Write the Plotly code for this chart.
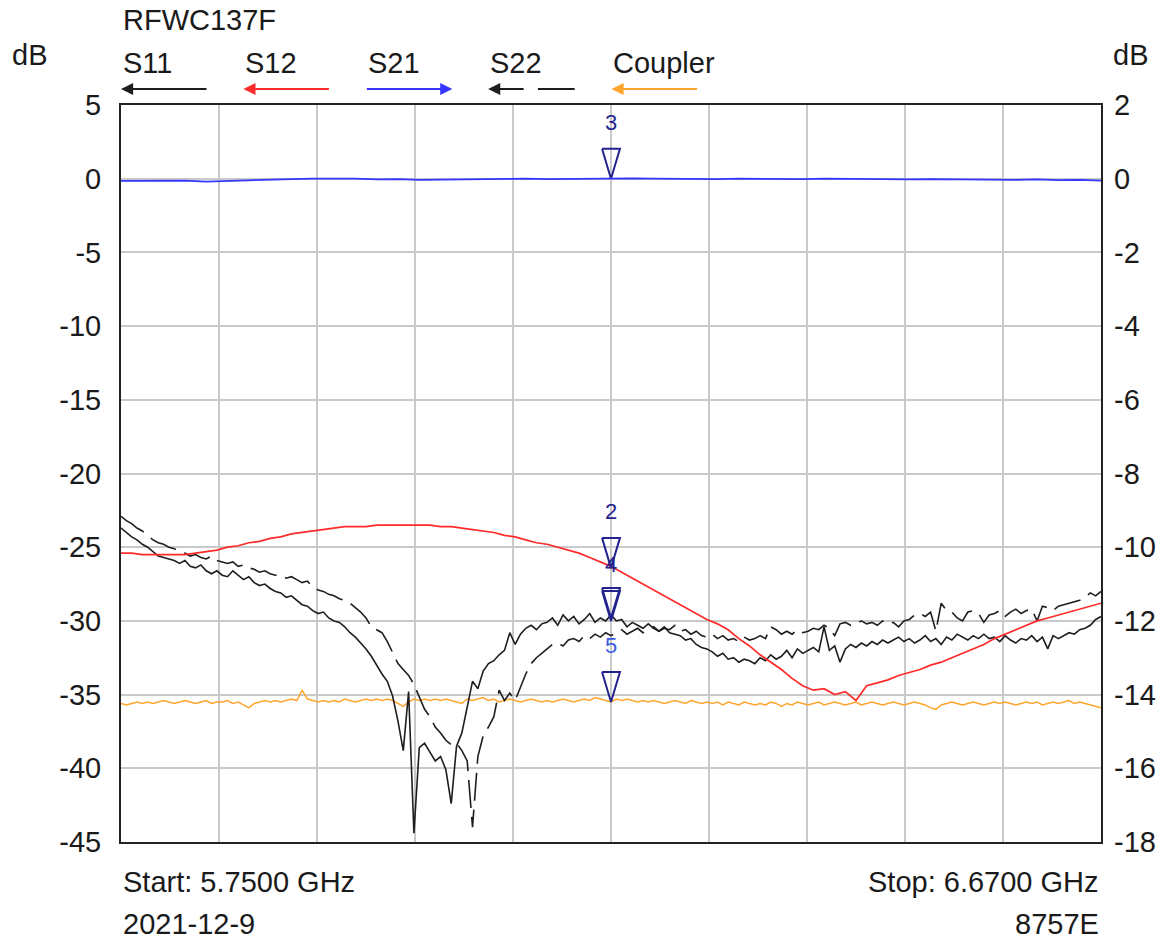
import numpy as np
import plotly.graph_objects as go

# ---------------- data ----------------
START_GHZ = 5.75
STOP_GHZ = 6.67

S11 = [
    -23.7, -24.0, -24.3, -24.5, -24.8, -25.0, -25.3, -25.6, -25.7, -25.8,
    -25.9, -26.1, -25.9, -26.3, -26.4, -26.2, -26.6, -26.8, -26.6, -26.9,
    -27.0, -26.6, -26.9, -27.2, -27.0, -27.4, -27.6, -27.5, -27.8, -28.0,
    -28.1, -28.4, -28.3, -28.6, -28.9, -29.0, -29.3, -29.5, -29.4, -29.8,
    -30.0, -30.1, -30.4, -30.8, -31.1, -31.5, -31.9, -32.4, -33.0, -33.6,
    -34.1, -35.1, -36.8, -38.8, -34.8, -44.4, -38.6, -38.3, -38.9, -39.5,
    -39.2, -40.1, -42.4, -38.5, -37.6, -35.8, -34.1, -34.6, -33.4, -32.9,
    -32.7, -32.3, -32.0, -30.8, -31.6, -30.9, -30.5, -30.3, -30.6, -30.2,
    -30.1, -29.8, -30.3, -29.6, -30.0, -29.7, -30.2, -29.9, -29.5, -30.1,
    -29.8, -30.0, -29.6, -30.0, -29.9, -30.4, -30.1, -30.3, -30.5, -30.2,
    -30.5, -30.7, -30.4, -30.8, -30.9, -31.0, -31.3, -31.2, -31.6, -31.8,
    -31.9, -32.1, -32.4, -32.2, -32.6, -32.5, -32.8, -32.6, -32.7, -32.9,
    -32.5, -32.7, -32.3, -32.6, -32.4, -32.0, -32.5, -31.9, -32.2, -32.0,
    -31.8, -32.1, -30.4, -32.0, -31.7, -32.8, -31.9, -31.6, -31.8, -31.5,
    -31.7, -31.4, -31.6, -31.3, -31.5, -31.3, -31.1, -31.4, -31.2, -31.5,
    -31.3, -31.0, -31.4, -31.2, -31.6, -31.1, -31.3, -30.9, -31.1, -31.3,
    -31.0, -31.2, -30.9, -31.2, -31.1, -31.4, -31.0, -31.3, -31.5, -31.2,
    -31.3, -31.0, -31.4, -31.1, -31.9, -31.0, -31.2, -31.0, -30.8, -30.9,
    -30.6, -30.5, -30.3, -29.9, -29.7,
]

S22 = [
    -22.9, -23.2, -23.4, -23.7, -23.9, -24.2, -24.5, -24.7, -24.8, -25.0,
    -25.1, -25.3, -25.4, -25.6, -25.5, -25.7, -25.8, -25.6, -25.9, -26.0,
    -26.1, -26.0, -26.3, -26.2, -26.4, -26.5, -26.7, -26.6, -26.8, -26.9,
    -26.9, -27.1, -27.0, -27.2, -27.4, -27.3, -27.7, -27.9, -28.0, -28.2,
    -28.3, -28.5, -28.6, -28.8, -29.1, -29.4, -29.8, -30.4, -30.6, -30.8,
    -31.4, -32.1, -32.9, -33.3, -33.7, -34.3, -35.2, -36.0, -36.5, -37.2,
    -37.6, -38.1, -38.4, -38.3, -38.8, -39.5, -44.0, -39.2, -37.8, -37.2,
    -36.5, -34.7, -35.4, -34.9, -35.4, -34.5, -33.6, -32.9, -32.5, -32.2,
    -31.9, -31.6, -31.5, -31.7, -31.3, -31.2, -31.4, -31.0, -31.2, -30.9,
    -31.1, -30.8, -31.0, -30.8, -30.6, -30.9, -30.7, -30.5, -30.8, -30.6,
    -30.4, -30.7, -30.5, -30.6, -30.3, -30.7, -30.6, -30.9, -30.7, -31.0,
    -31.1, -30.9, -31.2, -31.0, -31.3, -31.2, -31.4, -31.1, -31.3, -31.2,
    -31.0, -31.2, -30.4, -30.6, -30.9, -30.7, -30.9, -30.6, -30.8, -30.7,
    -30.5, -30.6, -30.3, -30.5, -31.0, -30.2, -30.1, -30.3, -30.2, -30.0,
    -30.2, -30.1, -30.3, -30.0, -30.2, -30.1, -30.4, -30.0, -29.9, -29.6,
    -29.5, -29.7, -29.4, -30.7, -28.8, -29.3, -29.4, -29.8, -30.0, -29.4,
    -29.3, -29.5, -30.1, -29.6, -29.5, -29.3, -29.7, -29.4, -29.2, -29.5,
    -29.3, -29.2, -30.0, -29.0, -29.1, -29.3, -29.0, -28.9, -28.8, -28.7,
    -28.6, -28.4, -28.1, -28.3, -28.0,
]

COUPLER = [
    -35.6, -35.7, -35.6, -35.5, -35.6, -35.5, -35.6, -35.5, -35.4, -35.5,
    -35.6, -35.5, -35.4, -35.5, -35.6, -35.5, -35.4, -35.6, -35.5, -35.5,
    -35.4, -35.6, -35.5, -35.7, -35.9, -35.6, -35.5, -35.4, -35.5, -35.4,
    -35.5, -35.4, -35.3, -35.4, -34.7, -35.3, -35.4, -35.5, -35.4, -35.5,
    -35.4, -35.5, -35.3, -35.4, -35.5, -35.4, -35.3, -35.4, -35.3, -35.4,
    -35.3, -35.4, -35.6, -35.8, -35.5, -35.3, -35.4, -35.3, -35.4, -35.3,
    -35.4, -35.3, -35.4, -35.5, -35.6, -35.3, -35.4, -35.3, -35.2, -35.4,
    -35.3, -35.5, -35.4, -35.3, -35.4, -35.5, -35.4, -35.3, -35.4, -35.5,
    -35.4, -35.5, -35.4, -35.3, -35.4, -35.5, -35.4, -35.3, -35.4, -35.2,
    -35.3, -35.4, -35.5, -35.3, -35.4, -35.3, -35.4, -35.5, -35.4, -35.5,
    -35.4, -35.5, -35.6, -35.5, -35.4, -35.5, -35.6, -35.4, -35.5, -35.6,
    -35.5, -35.6, -35.5, -35.7, -35.5, -35.6, -35.7, -35.5, -35.6, -35.7,
    -35.6, -35.7, -35.5, -35.6, -35.8, -35.6, -35.7, -35.5, -35.6, -35.7,
    -35.6, -35.5, -35.7, -35.6, -35.5, -35.6, -35.7, -35.6, -35.5, -35.7,
    -35.6, -35.5, -35.6, -35.7, -35.6, -35.5, -35.6, -35.7, -35.6, -35.5,
    -35.6, -35.7, -35.9, -36.0, -35.7, -35.6, -35.5, -35.6, -35.7, -35.6,
    -35.5, -35.6, -35.7, -35.6, -35.5, -35.6, -35.5, -35.6, -35.7, -35.6,
    -35.5, -35.6, -35.5, -35.7, -35.6, -35.5, -35.6, -35.5, -35.4, -35.6,
    -35.5, -35.6, -35.7, -35.8, -35.9,
]

S12 = [
    -25.4, -25.4, -25.5, -25.5, -25.5, -25.5, -25.5, -25.4, -25.3, -25.2,
    -25.0, -24.9, -24.7, -24.6, -24.4, -24.3, -24.1, -24.0, -23.9, -23.8,
    -23.7, -23.6, -23.6, -23.6, -23.5, -23.5, -23.5, -23.5, -23.5, -23.5,
    -23.6, -23.6, -23.7, -23.8, -23.9, -24.0, -24.2, -24.3, -24.5, -24.7,
    -24.8, -25.0, -25.2, -25.4, -25.7, -26.0, -26.3, -26.7, -27.1, -27.5,
    -27.9, -28.3, -28.7, -29.1, -29.5, -29.9, -30.2, -30.6, -31.2, -31.7,
    -32.3, -32.8, -33.3, -33.9, -34.4, -34.7, -34.6, -35.0, -34.8, -35.4,
    -34.4, -34.2, -34.0, -33.7, -33.5, -33.3, -33.0, -32.8, -32.5, -32.2,
    -31.9, -31.6, -31.2, -30.9, -30.6, -30.3, -30.0, -29.8, -29.6, -29.4,
    -29.2, -29.0, -28.8,
]

S21 = [
    -0.06, -0.05, -0.04, -0.05, -0.08, -0.06, -0.04, -0.02, -0.01, 0.0,
    0.01, 0.0, -0.02, -0.01, -0.03, -0.02, -0.01, 0.0, 0.01, 0.0,
    -0.01, 0.0, 0.01, 0.02, 0.01, 0.0, -0.01, -0.02, -0.01, 0.0,
    -0.01, -0.02, -0.01, 0.0, -0.01, -0.02, -0.03, -0.02, -0.01, -0.02,
    -0.01, -0.02, -0.03, -0.02, -0.04, -0.03, -0.05,
]

MARKER_FREQ = 6.21
MARKER_IDS = ["1", "2", "3", "4", "5"]
MARKER_VALUES = [-29.8, -26.4, 0.0, -30.0, -35.5]
MARKER_SHOW_LABEL = [False, True, True, True, True]

LEFT_TICKS = [5, 0, -5, -10, -15, -20, -25, -30, -35, -40, -45]
RIGHT_TICKS = [2, 0, -2, -4, -6, -8, -10, -12, -14, -16, -18]

LEGEND_NAMES = ["S11", "S12", "S21", "S22", "Coupler"]
TITLE = "RFWC137F"
START_TEXT = "Start: 5.7500 GHz"
STOP_TEXT = "Stop: 6.6700 GHz"
DATE_TEXT = "2021-12-9"
MODEL_TEXT = "8757E"

# ---------------- styles ----------------
FONT = "Liberation Sans, Arial, sans-serif"
NARROW = "Liberation Sans Narrow, Liberation Sans, Arial, sans-serif"
FS = 29
TXT = "#1a1a1a"
C_BLACK = "#1e1e1e"
C_RED = "#ff2a2a"
C_BLUE = "#3535ff"
C_ORANGE = "#ffa52e"
C_MARK = "#23238f"
GRID = "#c9c9c9"

W, H = 1168, 939
ML, MR, MT, MB = 121, 62, 105, 97
PW, PH = W - ML - MR, H - MT - MB


def px_x(p):
    return (p - ML) / PW


def px_y(p):
    return (H - MB - p) / PH


def sweep(n):
    return np.linspace(START_GHZ, STOP_GHZ, n)


fig = go.Figure()

fig.add_trace(go.Scatter(x=sweep(len(COUPLER)), y=COUPLER, mode="lines",
                         line=dict(color=C_ORANGE, width=1.5), name="Coupler"))
fig.add_trace(go.Scatter(x=sweep(len(S22)), y=S22, mode="lines",
                         line=dict(color=C_BLACK, width=1.6, dash="28px,9px"), name="S22"))
fig.add_trace(go.Scatter(x=sweep(len(S11)), y=S11, mode="lines",
                         line=dict(color=C_BLACK, width=1.6), name="S11"))
fig.add_trace(go.Scatter(x=sweep(len(S12)), y=S12, mode="lines",
                         line=dict(color=C_RED, width=1.7), name="S12"))
fig.add_trace(go.Scatter(x=sweep(len(S21)), y=S21, mode="lines", yaxis="y2",
                         line=dict(color=C_BLUE, width=1.8), name="S21"))

# marker triangles (tip at marker value)
TRI_HALF_W = 0.0084   # GHz
TRI_H = 2.03          # dB
for mid, mv, show in zip(MARKER_IDS, MARKER_VALUES, MARKER_SHOW_LABEL):
    fig.add_trace(go.Scatter(
        x=[MARKER_FREQ - TRI_HALF_W, MARKER_FREQ + TRI_HALF_W, MARKER_FREQ, MARKER_FREQ - TRI_HALF_W],
        y=[mv + TRI_H, mv + TRI_H, mv, mv + TRI_H],
        mode="lines", line=dict(color=C_MARK, width=2), hoverinfo="skip"))
    if show:
        fig.add_annotation(x=MARKER_FREQ, y=mv, xref="x", yref="y", text=mid,
                           showarrow=False, yshift=56,
                           font=dict(family=NARROW, size=22,
                                     color=C_MARK if mid != "5" else "#3b5be0"))

ann = []
ann.append(dict(x=px_x(121), y=px_y(20), text=TITLE, xanchor="left", yanchor="middle"))
ann.append(dict(x=px_x(29), y=px_y(55), text="dB", xanchor="center", yanchor="middle"))
ann.append(dict(x=px_x(1136), y=px_y(55), text="dB", xanchor="center", yanchor="middle"))
ann.append(dict(x=px_x(121), y=px_y(882), text=START_TEXT, xanchor="left", yanchor="middle"))
ann.append(dict(x=px_x(121), y=px_y(924), text=DATE_TEXT, xanchor="left", yanchor="middle"))
ann.append(dict(x=px_x(1106), y=px_y(882), text=STOP_TEXT, xanchor="right", yanchor="middle"))
ann.append(dict(x=px_x(1106), y=px_y(924), text=MODEL_TEXT, xanchor="right", yanchor="middle"))
for a in ann:
    a.update(xref="paper", yref="paper", showarrow=False,
             font=dict(family=FONT, size=FS, color=TXT))
    fig.add_annotation(**a)

# legend texts + arrows
LEG_X = [121, 244, 367, 490, 614]
LEG_COLORS = [C_BLACK, C_RED, C_BLUE, C_BLACK, C_ORANGE]
LEG_DIR = [-1, -1, 1, -1, -1]
for name, lx, col, d in zip(LEGEND_NAMES, LEG_X, LEG_COLORS, LEG_DIR):
    fig.add_annotation(x=px_x(lx), y=px_y(63), xref="paper", yref="paper", text=name,
                       showarrow=False, xanchor="left", yanchor="middle",
                       font=dict(family=FONT, size=FS, color=TXT))
    length = 37 if name == "S22" else 87
    if d < 0:
        tip, ax = lx, length
    else:
        tip, ax = lx + length, -length
    fig.add_annotation(x=px_x(tip), y=px_y(89), xref="paper", yref="paper", text="",
                       showarrow=True, ax=ax, ay=0, arrowhead=2, arrowsize=1.1,
                       arrowwidth=2.2, arrowcolor=col)
    if name == "S22":
        fig.add_shape(type="line", xref="paper", yref="paper",
                      x0=px_x(540), x1=px_x(577), y0=px_y(89), y1=px_y(89),
                      line=dict(color=col, width=2.2))

fig.update_layout(
    width=W, height=H,
    margin=dict(l=ML, r=MR, t=MT, b=MB, pad=0),
    paper_bgcolor="white", plot_bgcolor="white",
    showlegend=False,
    font=dict(family=FONT, size=FS, color=TXT),
    xaxis=dict(range=[START_GHZ, STOP_GHZ],
               tickvals=list(np.linspace(START_GHZ, STOP_GHZ, 11)),
               showticklabels=False, ticks="",
               showgrid=True, gridcolor=GRID, gridwidth=1.6,
               showline=True, linecolor="#222", linewidth=2, mirror=True,
               zeroline=False),
    yaxis=dict(range=[-45, 5], tickvals=LEFT_TICKS,
               ticktext=[str(v) for v in LEFT_TICKS], ticks="",
               ticklabelstandoff=12,
               showgrid=True, gridcolor=GRID, gridwidth=1.6,
               showline=True, linecolor="#222", linewidth=2, mirror=True,
               zeroline=False, tickfont=dict(family=FONT, size=FS, color=TXT)),
    yaxis2=dict(range=[-18, 2], tickvals=RIGHT_TICKS,
                ticktext=[str(v) for v in RIGHT_TICKS], ticks="",
                overlaying="y", side="right", ticklabelstandoff=12,
                showgrid=False, zeroline=False, showline=False,
                tickfont=dict(family=FONT, size=FS, color=TXT)),
)

fig.write_html("out.html", config={"displayModeBar": False},
               post_script="document.body.style.margin='0px';document.body.style.overflow='hidden';")
